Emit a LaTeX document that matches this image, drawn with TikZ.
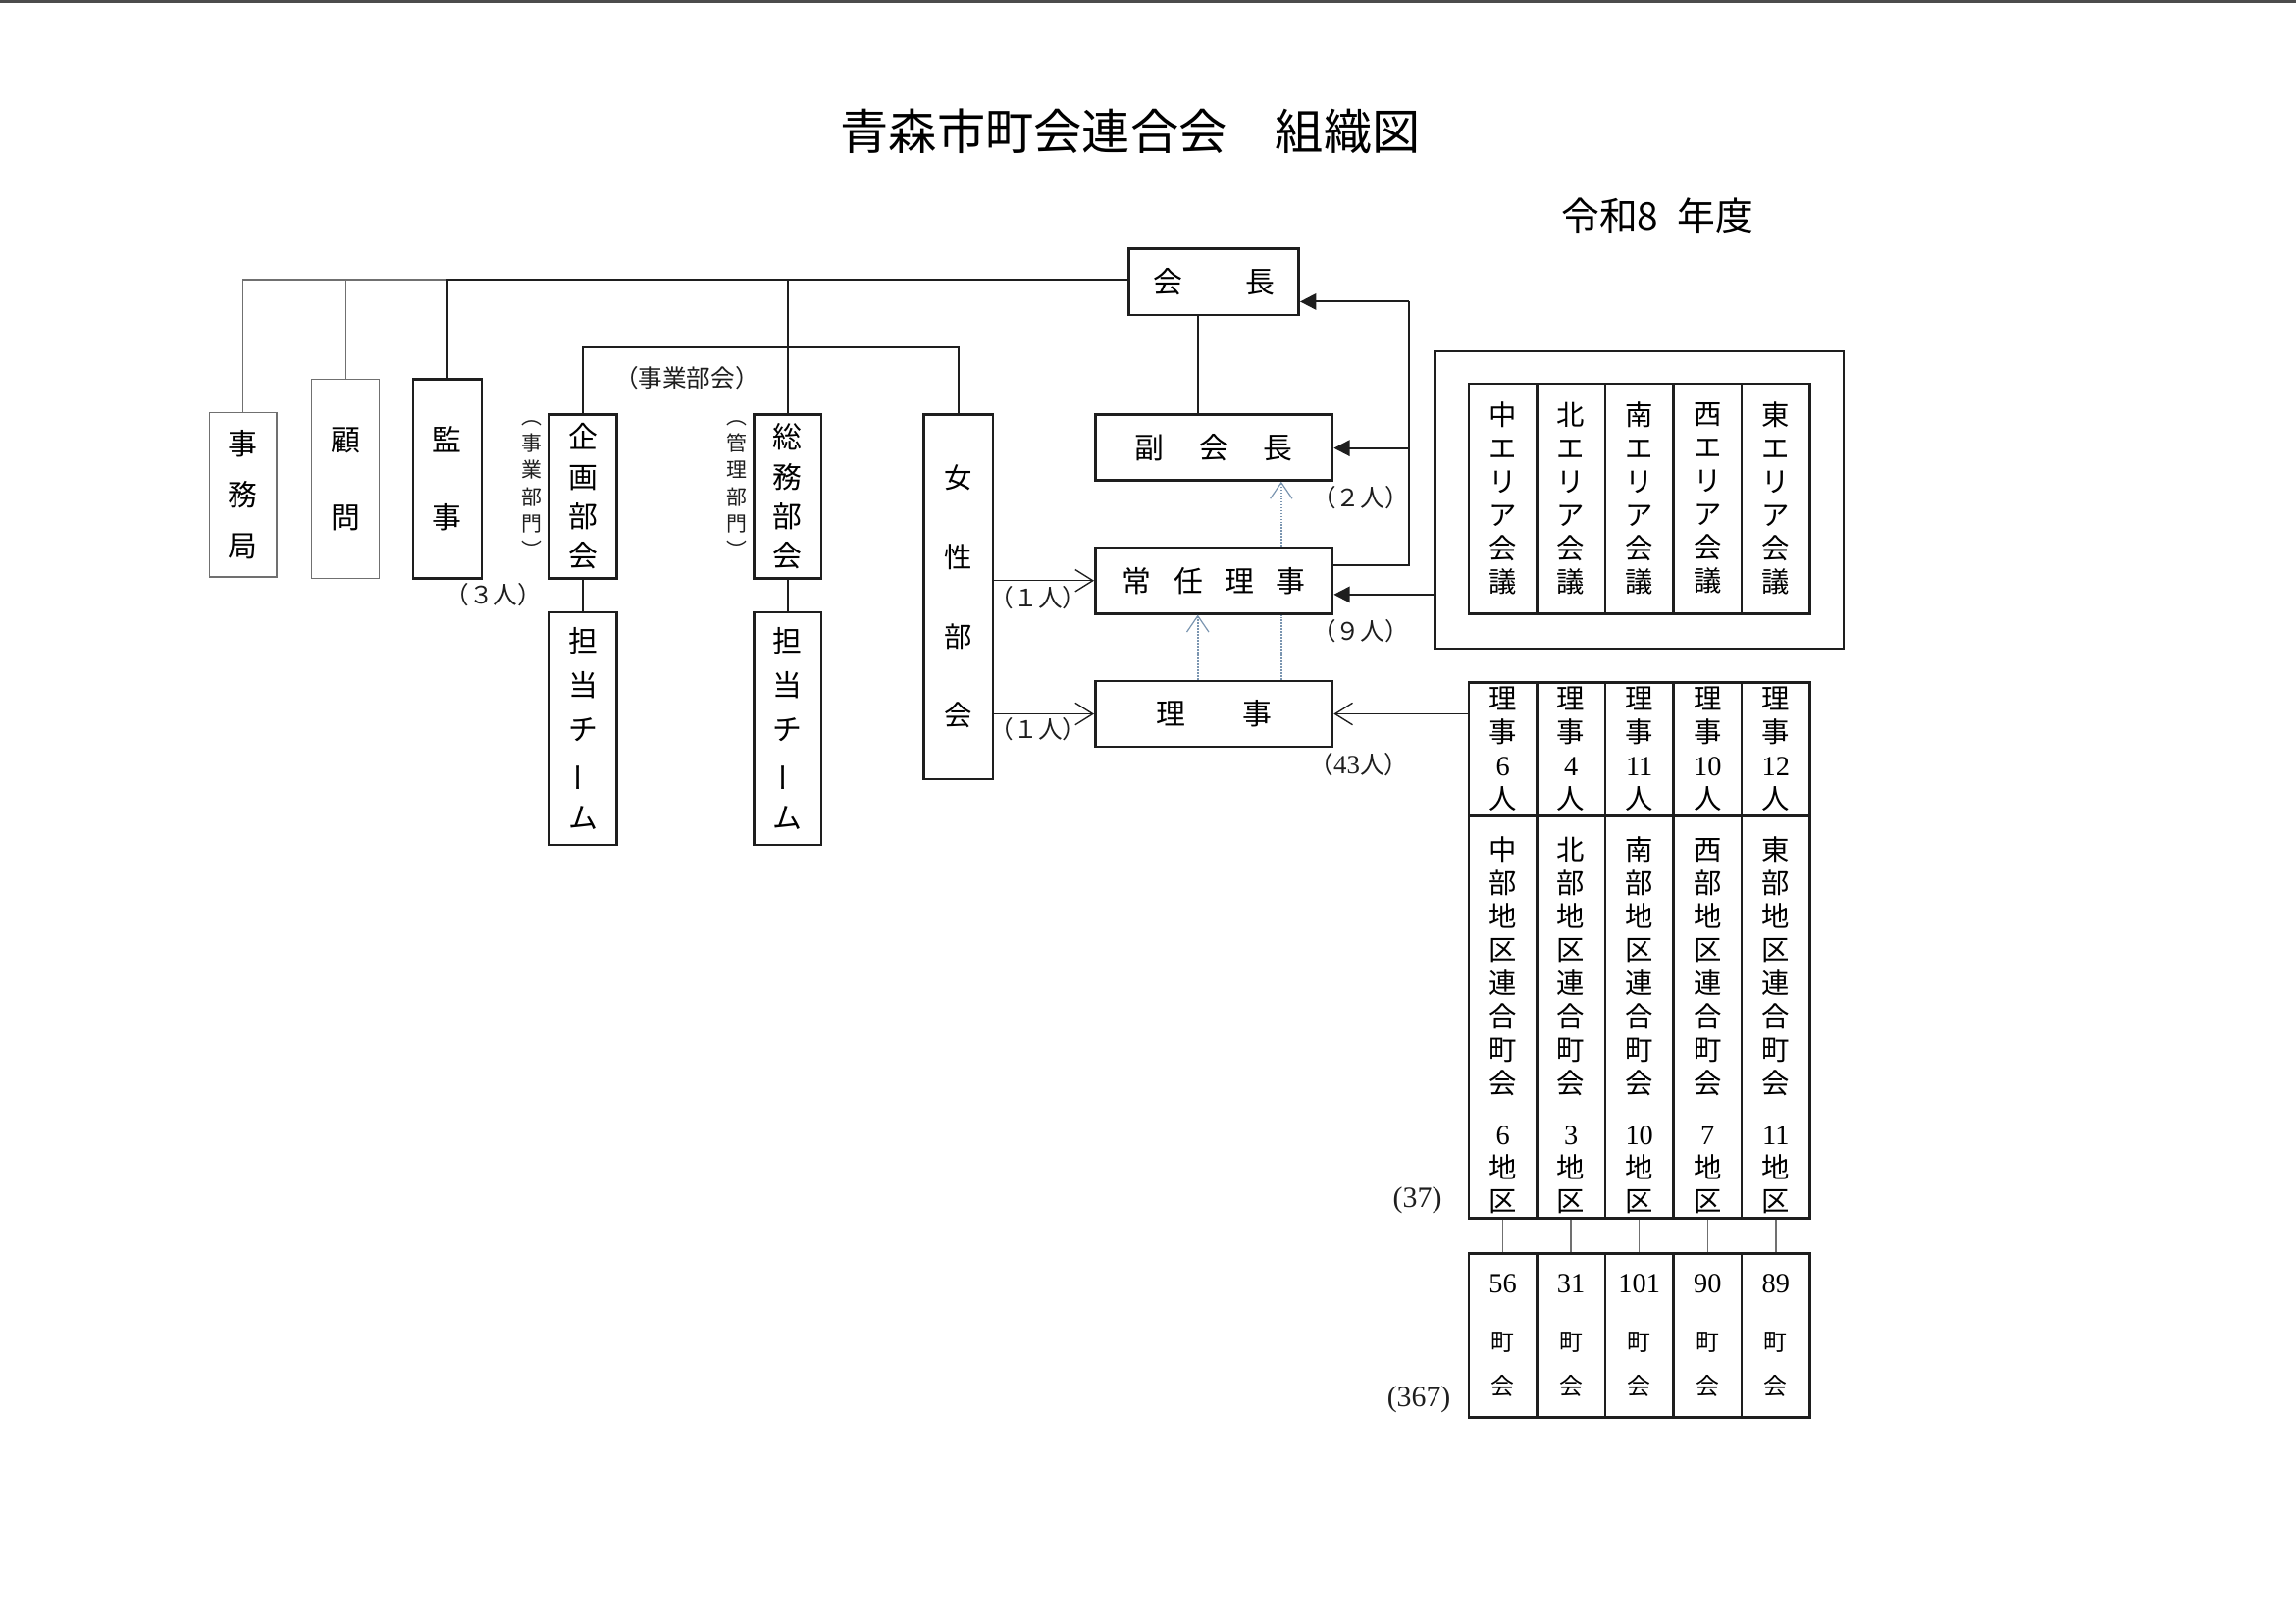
\documentclass[tikz,border=0pt]{standalone}
\usepackage{fontspec}
\setmainfont{Noto Sans CJK JP}
\newfontfamily\dg{Liberation Serif}
\usetikzlibrary{arrows.meta,calc}
\newcommand\myfs[2]{\fontsize{#1}{#2}\selectfont}
\newcommand\mystrut{\rule{0pt}{27pt}}
\definecolor{ink}{HTML}{1E1E1E}
\definecolor{thingray}{HTML}{707070}
\definecolor{dotc}{HTML}{7A95B0}
\tikzset{
  bx/.style 2 args={draw=ink, line width=1.7pt, inner sep=0pt, align=center, minimum width=#1, minimum height=#2},
  gbx/.style 2 args={draw=thingray, line width=0.8pt, inner sep=0pt, align=center, minimum width=#1, minimum height=#2},
  lbl/.style={inner sep=0pt, text=ink, font=\myfs{16.5}{18}},
  vlbl/.style={inner sep=0pt, align=center, text=ink, font=\myfs{14}{18.3}},
  thickln/.style={draw=ink, line width=1.4pt},
  thinln/.style={draw=thingray, line width=0.8pt},
  grayln/.style={draw=thingray, line width=1pt},
  openarr/.style={draw=ink, line width=0.9pt, -{Straight Barb[length=12pt,width=15pt,line width=0.9pt]}},
  fillarr/.style={draw=ink, line width=1.4pt, -{Triangle[length=11pt,width=11pt]}},
  dotln/.style={draw=dotc, line width=1pt, densely dotted},
  dotarr/.style={dotln, -{Straight Barb[length=11pt,width=15pt,line width=0.8pt]}},
}
\begin{document}
\begin{tikzpicture}[x=1pt, y=-1pt]
\fill[white] (0,0) rectangle (1568,1108);
\useasboundingbox (0,0) rectangle (1568,1108);
\draw[line width=2pt, black!70] (0,1) -- (1568,1);

% titles
\node[inner sep=0pt, font=\myfs{33}{40}] (title) at (772,90) {青森市町会連合会　組織図};
\node[inner sep=0pt, font=\myfs{26}{30}] (year) at (1132,147) {令和8\hspace{0.5em}年度};

% left column boxes
\node[gbx={46pt}{112pt}, font=\myfs{20}{35}] (jimu) at (166,338) {事\\務\\局};
\node[gbx={46pt}{136pt}, font=\myfs{20}{53}] (komon) at (236,327) {顧\\問};
\node[bx={47pt}{136pt}, font=\myfs{20}{53}] (kanji) at (305.5,327) {監\\事};
\node[lbl] (n3) at (337,406) {（３人）};
\node[bx={46pt}{112pt}, font=\myfs{20}{27}] (kikaku) at (398,339) {企\\画\\部\\会};
\node[bx={46pt}{112pt}, font=\myfs{20}{27}] (somu) at (538,339) {総\\務\\部\\会};
\node[bx={46pt}{159pt}, font=\myfs{20}{30}] (tanto1) at (398,497.5) {担\\当\\チ\\\rotatebox[origin=c]{90}{ー}\\ム};
\node[bx={46pt}{159pt}, font=\myfs{20}{30}] (tanto2) at (538,497.5) {担\\当\\チ\\\rotatebox[origin=c]{90}{ー}\\ム};
\node[bx={47pt}{249pt}, font=\myfs{19}{54}] (josei) at (654.5,407.5) {女\\性\\部\\会};
\node[vlbl] (bumon1) at (363,334) {︵\\事\\業\\部\\門\\︶};
\node[vlbl] (bumon2) at (503,334) {︵\\管\\理\\部\\門\\︶};
\node[inner sep=0pt, text=ink, font=\myfs{16.5}{18}] (jigyo) at (469,258) {（事業部会）};

% center column
\node[bx={116pt}{45pt}, font=\myfs{20}{24}] (kaicho) at (829,192.5) {会\hspace{43pt}長};
\node[bx={162pt}{45pt}, font=\myfs{20}{24}] (fuku) at (829,305.5) {副\hspace{24pt}会\hspace{24pt}長};
\node[bx={162pt}{45pt}, font=\myfs{20}{24}] (jonin) at (829,396.5) {常\hspace{15pt}任\hspace{15pt}理\hspace{15pt}事};
\node[bx={162pt}{45pt}, font=\myfs{20}{24}] (riji) at (829,487.5) {理\hspace{39pt}事};
\node[lbl] (n2) at (929,340) {（２人）};
\node[lbl] (n9) at (929,431) {（９人）};
\node[lbl] (n43) at (928,522) {（{\dg\myfs{18}{18}43}人）};
\node[lbl] (n1a) at (709,408) {（１人）};
\node[lbl] (n1b) at (709,498) {（１人）};

% area councils
\node[bx={279pt}{203pt}] (area) at (1119.5,341.5) {};
\node[bx={46.6pt}{157pt}, font=\myfs{19}{22.8}] (a1) at (1026.3,340.5) {中\\エ\\リ\\ア\\会\\議};
\node[bx={46.6pt}{157pt}, font=\myfs{19}{22.8}] (a2) at (1072.9,340.5) {北\\エ\\リ\\ア\\会\\議};
\node[bx={46.6pt}{157pt}, font=\myfs{19}{22.8}] (a3) at (1119.5,340.5) {南\\エ\\リ\\ア\\会\\議};
\node[bx={46.6pt}{157pt}, font=\myfs{19}{22.8}] (a4) at (1166.1,340.5) {西\\エ\\リ\\ア\\会\\議};
\node[bx={46.6pt}{157pt}, font=\myfs{19}{22.8}] (a5) at (1212.7,340.5) {東\\エ\\リ\\ア\\会\\議};

% district table
\node[bx={46.6pt}{91pt}, font=\myfs{19}{22.7}] (t1) at (1026.3,511.5) {理\\事\\{\dg 6}\\人};
\node[bx={46.6pt}{91pt}, font=\myfs{19}{22.7}] (t2) at (1072.9,511.5) {理\\事\\{\dg 4}\\人};
\node[bx={46.6pt}{91pt}, font=\myfs{19}{22.7}] (t3) at (1119.5,511.5) {理\\事\\{\dg 11}\\人};
\node[bx={46.6pt}{91pt}, font=\myfs{19}{22.7}] (t4) at (1166.1,511.5) {理\\事\\{\dg 10}\\人};
\node[bx={46.6pt}{91pt}, font=\myfs{19}{22.7}] (t5) at (1212.7,511.5) {理\\事\\{\dg 12}\\人};
\node[bx={46.6pt}{275pt}, font=\myfs{19}{22.8}] (m1) at (1026.3,694.5) {\mystrut 中\\部\\地\\区\\連\\合\\町\\会\\[12pt]{\dg 6}\\地\\区};
\node[bx={46.6pt}{275pt}, font=\myfs{19}{22.8}] (m2) at (1072.9,694.5) {\mystrut 北\\部\\地\\区\\連\\合\\町\\会\\[12pt]{\dg 3}\\地\\区};
\node[bx={46.6pt}{275pt}, font=\myfs{19}{22.8}] (m3) at (1119.5,694.5) {\mystrut 南\\部\\地\\区\\連\\合\\町\\会\\[12pt]{\dg 10}\\地\\区};
\node[bx={46.6pt}{275pt}, font=\myfs{19}{22.8}] (m4) at (1166.1,694.5) {\mystrut 西\\部\\地\\区\\連\\合\\町\\会\\[12pt]{\dg 7}\\地\\区};
\node[bx={46.6pt}{275pt}, font=\myfs{19}{22.8}] (m5) at (1212.7,694.5) {\mystrut 東\\部\\地\\区\\連\\合\\町\\会\\[12pt]{\dg 11}\\地\\区};
\node[bx={46.6pt}{112pt}, font=\myfs{16}{30}] (b1) at (1026.3,912) {{\dg\myfs{19}{30}56}\\[10pt]町\\会};
\node[bx={46.6pt}{112pt}, font=\myfs{16}{30}] (b2) at (1072.9,912) {{\dg\myfs{19}{30}31}\\[10pt]町\\会};
\node[bx={46.6pt}{112pt}, font=\myfs{16}{30}] (b3) at (1119.5,912) {{\dg\myfs{19}{30}101}\\[10pt]町\\会};
\node[bx={46.6pt}{112pt}, font=\myfs{16}{30}] (b4) at (1166.1,912) {{\dg\myfs{19}{30}90}\\[10pt]町\\会};
\node[bx={46.6pt}{112pt}, font=\myfs{16}{30}] (b5) at (1212.7,912) {{\dg\myfs{19}{30}89}\\[10pt]町\\会};
\node[inner sep=0pt, text=ink, font=\dg\myfs{20}{24}] (n37) at (968,820) {(37)};
\node[inner sep=0pt, text=ink, font=\dg\myfs{20}{24}] (n367) at (969,956) {(367)};

% top connectors
\coordinate (topy) at (0,191);
\coordinate (midy) at (0,237);
\draw[thinln] (jimu.north) -- (jimu.north |- topy) -- (kanji.north |- topy);
\draw[thinln] (komon.north) -- (komon.north |- topy);
\draw[thickln] (kanji.north) -- (kanji.north |- topy) -- (kaicho.west |- topy);
\draw[thickln] (somu.north) -- (somu.north |- topy);
\draw[thickln] (kikaku.north) -- (kikaku.north |- midy) -- (josei.north |- midy) -- (josei.north);
\draw[thickln] (kikaku.south) -- (tanto1.north);
\draw[thickln] (somu.south) -- (tanto2.north);
\draw[thickln] ($(kaicho.south)+(-11,0)$) -- ($(fuku.north)+(-11,0)$);

% right side feedback lines
\coordinate (r1) at (962,206);
\coordinate (r2) at (962,306);
\coordinate (r3) at (962,386);
\draw[thickln] ($(jonin.east)+(0,-10.5)$) -- (r3) -- (r1);
\draw[fillarr] (r1) -- (kaicho.east |- r1);
\draw[fillarr] (r2) -- (fuku.east |- r2);
\coordinate (ar) at ($(area.west)+(0,64.5)$);
\draw[fillarr] (ar) -- (jonin.east |- ar);

% women's committee arrows
\draw[openarr] (josei.east |- jonin.west) -- (jonin.west);
\draw[openarr] (josei.east |- riji.west) -- (riji.west);
\draw[openarr] (t1.west |- riji.east) -- (riji.east);

% dotted
\draw[dotarr] ($(riji.north)+(-11,0)$) -- ($(jonin.south)+(-11,0)$);
\draw[dotln] ($(riji.north)+(46,0)$) -- ($(jonin.south)+(46,0)$);
\draw[dotarr] ($(jonin.north)+(46,0)$) -- ($(fuku.south)+(46,0)$);

% table to towns
\foreach \i in {1,...,5} {\draw[grayln] (m\i.south) -- (b\i.north);}
\end{tikzpicture}
\end{document}
